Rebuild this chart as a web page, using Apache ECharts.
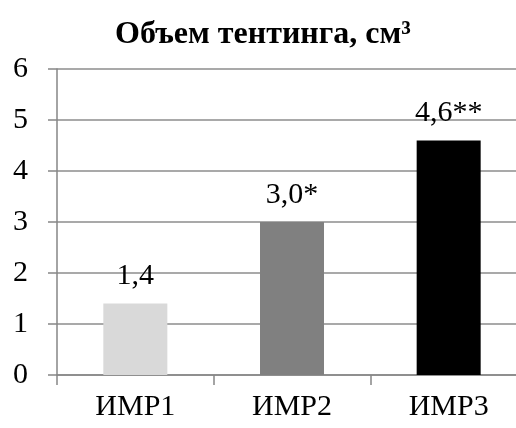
<!DOCTYPE html>
<html>
<head>
<meta charset="utf-8">
<script src="https://cdn.jsdelivr.net/npm/echarts@6/dist/echarts.min.js"></script>
<style>
  html, body { margin: 0; padding: 0; background: #fff; overflow: hidden; }
  #chart { width: 527px; height: 428px; }
</style>
</head>
<body>
<div id="chart"></div>
<script>
// Tenting volume by group, cm³
const categories = ['ИМР1', 'ИМР2', 'ИМР3'];
const volumes = [1.4, 3.0, 4.6];
const significance = ['', '*', '**'];
const barColors = ['#d9d9d9', '#808080', '#000000'];
const yTicks = [0, 1, 2, 3, 4, 5, 6];

const FONT = '"Liberation Serif", "Times New Roman", serif';

function valueLabel(i) {
  return volumes[i].toFixed(1).replace('.', ',') + significance[i];
}

const chart = echarts.init(document.getElementById('chart'), null, { renderer: 'canvas' });

chart.setOption({
  animation: false,
  backgroundColor: '#ffffff',
  title: {
    text: 'Объем тентинга, см³',
    left: 258,
    top: 14,
    textAlign: 'center',
    textStyle: { fontFamily: FONT, fontWeight: 'bold', fontSize: 32, color: '#000' }
  },
  grid: { left: 57, right: 0, top: 69, bottom: 53, containLabel: false },
  xAxis: {
    type: 'category',
    data: categories,
    boundaryGap: true,
    axisLine: { lineStyle: { color: '#868686', width: 1.5 } },
    axisTick: { show: true, length: 10, alignWithLabel: false, lineStyle: { color: '#868686', width: 1.5 } },
    axisLabel: { fontFamily: FONT, fontSize: 30, color: '#000', margin: 17 }
  },
  yAxis: {
    type: 'value',
    min: yTicks[0],
    max: yTicks[yTicks.length - 1],
    interval: 1,
    axisLine: { show: true, lineStyle: { color: '#868686', width: 1.5 } },
    axisTick: { show: true, length: 9, lineStyle: { color: '#868686', width: 1.5 } },
    splitLine: { show: true, lineStyle: { color: '#8c8c8c', width: 1.5 } },
    axisLabel: { fontFamily: FONT, fontSize: 30, color: '#000', margin: 29 }
  },
  series: [{
    type: 'bar',
    barWidth: 64,
    data: volumes.map((v, i) => ({ value: v, itemStyle: { color: barColors[i] } })),
    label: {
      show: true,
      position: 'top',
      distance: 12,
      fontFamily: FONT,
      fontSize: 30,
      color: '#000',
      formatter: p => valueLabel(p.dataIndex)
    }
  }]
});
</script>
</body>
</html>
